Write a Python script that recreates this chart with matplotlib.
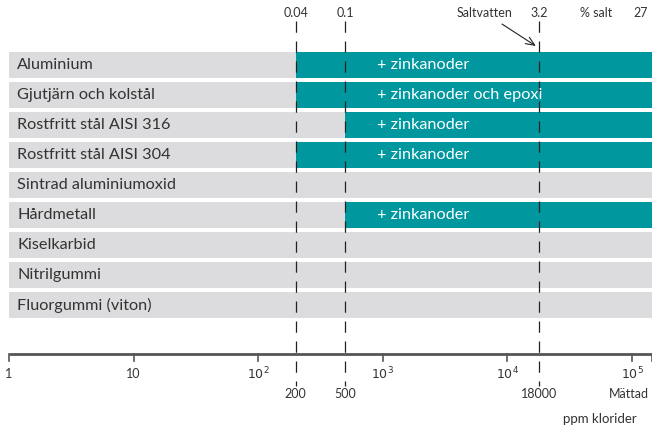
import matplotlib
matplotlib.use("Agg")
import matplotlib.pyplot as plt
import numpy as np

# Materials and the chloride level (ppm) from which extra protection is needed
materials = [
    "Aluminium",
    "Gjutjärn och kolstål",
    "Rostfritt stål AISI 316",
    "Rostfritt stål AISI 304",
    "Sintrad aluminiumoxid",
    "Hårdmetall",
    "Kiselkarbid",
    "Nitrilgummi",
    "Fluorgummi (viton)",
]
protect_from_ppm = [200, 200, 500, 200, None, 500, None, None, None]
protect_labels = ["+ zinkanoder", "+ zinkanoder och epoxi", "+ zinkanoder",
                  "+ zinkanoder", "", "+ zinkanoder", "", "", ""]

limit_ppm = [200, 500, 18000]
limit_pct = ["0.04", "0.1", "3.2"]
decades = [1, 10, 100, 1000, 10000, 100000]
decade_labels = ["1", "10", "$10^2$", "$10^3$", "$10^4$", "$10^5$"]
saturated_ppm = 95000

GREY = "#dcdcde"
TEAL = "#00979e"
TEXT = "#333333"
FONT = "Lato"

# pixel helpers for the layout (1 decade = 124.6 px, ppm 1 at x=9 px)
def px_x(p):
    return 10 ** ((p - 9) / 124.6)

def px_y(p):
    return (p - 65) / 30.0

fig = plt.figure(figsize=(6.52, 4.26), dpi=100)
ax = fig.add_axes([0, 0, 1, 1])
ax.set_xscale("log")
xmin, xmax = px_x(0), px_x(652)
ax.set_xlim(xmin, xmax)
ax.set_ylim(px_y(426), px_y(0))
ax.axis("off")

rows = np.arange(len(materials))
ax.barh(rows, xmax - 1, left=1, height=0.88, color=GREY, zorder=1)
for i, (start, lab) in enumerate(zip(protect_from_ppm, protect_labels)):
    if start is None:
        continue
    ax.barh(i, xmax - start, left=start, height=0.88, color=TEAL, zorder=2)
    ax.text(px_x(377), i, lab, color="white", fontsize=11.7, family=FONT,
            va="center", ha="left", zorder=4)

for i, name in enumerate(materials):
    ax.text(px_x(17), i, name, color=TEXT, fontsize=11.7, family=FONT,
            va="center", ha="left", zorder=4)

# dashed chloride limits
for ppm, pct in zip(limit_ppm, limit_pct):
    ax.plot([ppm, ppm], [px_y(21), px_y(386)], color="#222222", lw=0.9,
            dashes=(9, 7), zorder=3)
    ax.text(ppm, px_y(13), pct, color=TEXT, fontsize=9, family=FONT,
            ha="center", va="center")
    ax.text(ppm, px_y(394), str(ppm), color=TEXT, fontsize=9, family=FONT,
            ha="center", va="center")

ax.text(px_x(596), px_y(13), "% salt", color=TEXT, fontsize=9, family=FONT,
        ha="center", va="center")
ax.text(px_x(641), px_y(13), "27", color=TEXT, fontsize=9, family=FONT,
        ha="center", va="center")
ax.annotate("Saltvatten", xy=(limit_ppm[2] * 0.94, px_y(46)),
            xytext=(px_x(485), px_y(13)), color=TEXT, fontsize=9, family=FONT,
            ha="center", va="center",
            arrowprops=dict(arrowstyle="->,head_length=0.7,head_width=0.3",
                            color="#222222", lw=0.8, shrinkA=3, shrinkB=0))

# bottom ppm axis
axis_y = px_y(354)
ax.plot([1, xmax], [axis_y, axis_y], color="#555555", lw=2, zorder=3,
        solid_capstyle="butt")
for d, lab in zip(decades, decade_labels):
    ax.plot([d, d], [axis_y, px_y(361)], color="#555555", lw=1.2)
    ax.text(d, px_y(374), lab, color=TEXT, fontsize=9, family=FONT,
            ha="center", va="center")
ax.plot([xmax * 0.995, xmax * 0.995], [axis_y, px_y(361)], color="#555555", lw=1.2)
ax.text(saturated_ppm, px_y(394), "Mättad", color=TEXT, fontsize=9,
        family=FONT, ha="center", va="center")
ax.text(px_x(600), px_y(419), "ppm klorider", color=TEXT, fontsize=9.5,
        family=FONT, ha="center", va="center")

fig.savefig("out.png", dpi=100)
